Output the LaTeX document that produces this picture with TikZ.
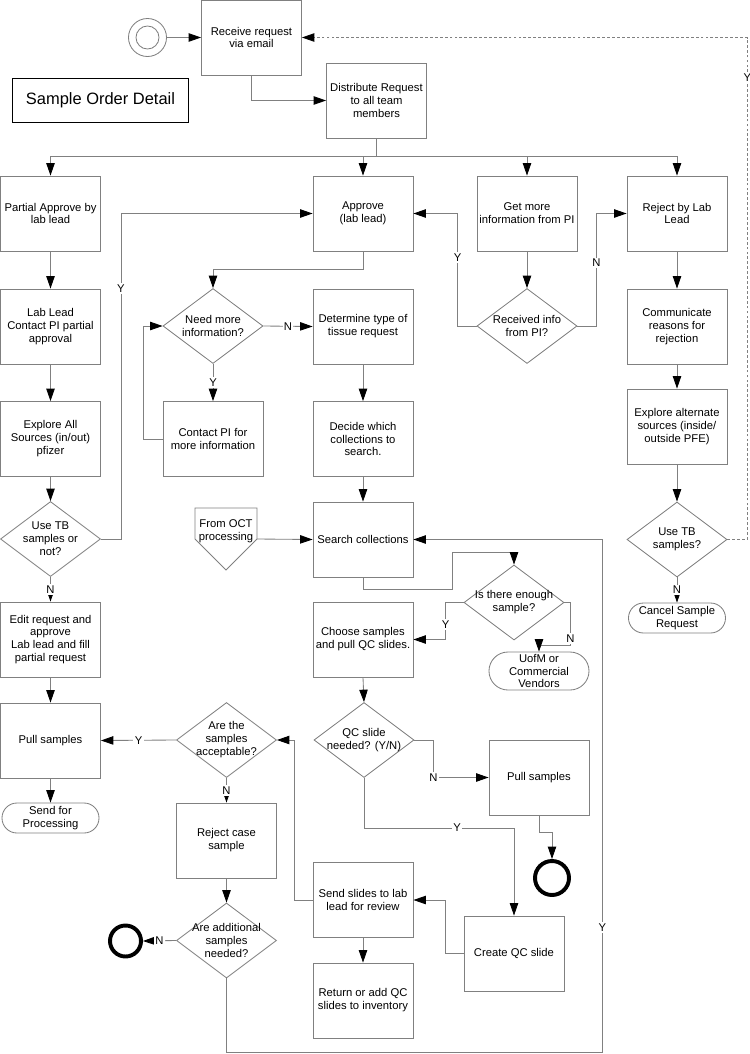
\documentclass[tikz,border=0pt]{standalone}
\usepackage{fontspec}
\setmainfont{Liberation Sans}
\usetikzlibrary{arrows.meta,positioning,calc,shapes.geometric,shapes.misc}
\definecolor{edge}{HTML}{808080}

\begin{document}
\begin{tikzpicture}[x=0.025cm,y=-0.025cm,font=\fontsize{8}{9.2}\selectfont,line width=0.6pt]
\tikzstyle{proc}=[draw=edge,minimum width=2.5cm,minimum height=1.875cm,align=center,inner sep=1pt]
\tikzstyle{dec}=[draw=edge,diamond,minimum width=2.5cm,minimum height=1.875cm,inner sep=0pt]
\tikzstyle{term}=[draw=edge,rounded rectangle,minimum width=2.425cm,minimum height=0.75cm,inner sep=0pt]
\tikzstyle{txt}=[align=center,inner sep=0pt]
\tikzstyle{arr}=[draw=edge,-{Triangle[length=3.1mm,width=2.1mm,color=black]}]
\tikzstyle{lab}=[fill=white,inner sep=1pt]
\useasboundingbox (0,0) rectangle (750,1054);
\node[circle,draw=edge,minimum size=0.95cm] (start) at (147.5,37.5) {};
\node[circle,draw=edge,minimum size=0.575cm] (start-in) at (start) {};
\node[proc] (recv) at (251.5,37.5) {Receive request\\via email};
\node[draw,line width=0.7pt,minimum width=4.375cm,minimum height=1.1cm,font=\fontsize{11.7}{14}\selectfont] (title) at (100.5,100) {Sample Order Detail};
\node[proc] (dist) at (376.5,100.5) {Distribute Request\\to all team\\members};
\node[proc] (partial) at (50.5,213.5) {Partial Approve by\\lab lead};
\node[proc] (approve) at (363,213.5) {Approve\\(lab lead)};
\node[proc] (getinfo) at (527,213.5) {Get more\\information from PI};
\node[proc] (reject) at (677,213.5) {Reject by Lab\\Lead};
\node[proc] (contact) at (50.5,326.5) {Lab Lead\\Contact PI partial\\approval};
\node[dec,label={[txt]center:{Need more\\information?}}] (needinfo) at (213,326) {};
\node[proc] (determine) at (363,326.5) {Determine type of\\tissue request};
\node[dec,label={[txt]center:{Received info\\from PI?}}] (received) at (527,326) {};
\node[proc] (communicate) at (677,326.5) {Communicate\\reasons for\\rejection};
\node[proc] (explore) at (50.5,439) {Explore All\\Sources (in/out)\\pfizer};
\node[proc] (contactpi) at (213,439) {Contact PI for\\more information};
\node[proc] (decide) at (363,439) {Decide which\\collections to\\search.};
\node[proc] (alternate) at (677,426.5) {Explore alternate\\sources (inside/\\outside PFE)};
\node[dec,label={[txt]center:{Use TB\\samples or\\not?}}] (usetb) at (50.5,539) {};
\node[proc] (search) at (363,539.5) {Search collections};
\node[dec,label={[txt]center:{Use TB\\samples?}}] (usetbrej) at (677,539.5) {};
\node[dec,label={[txt]center:{Is there enough\\sample?}}] (enough) at (514,602.5) {};
\node[term,label={[txt]center:{Cancel Sample\\Request}}] (cancel) at (677,618) {};
\node[proc] (edit) at (50.5,639.5) {Edit request and\\approve\\Lab lead and fill\\partial request};
\node[proc] (choose) at (363,639.5) {Choose samples\\and pull QC slides.};
\node[term,minimum width=2.5cm,minimum height=0.95cm,label={[txt]center:{UofM or\\Commercial\\Vendors}}] (uofm) at (539,671) {};
\node[proc] (pullA) at (50.5,740.5) {Pull samples};
\node[dec,label={[txt]center:{Are the\\samples\\acceptable?}}] (accept) at (226.5,740) {};
\node[dec,label={[txt]center:{QC slide\\needed? (Y/N)}}] (qcneed) at (364,740) {};
\node[proc] (pullB) at (539,777.5) {Pull samples};
\node[term,label={[txt]center:{Send for\\Processing}}] (sendproc) at (50.5,818) {};
\node[proc] (rejcase) at (226.5,840.5) {Reject case\\sample};
\node[circle,draw,line width=2.8pt,minimum size=0.85cm] (endB) at (552,878) {};
\node[proc] (sendslides) at (363,900) {Send slides to lab\\lead for review};
\node[dec,label={[txt]center:{Are additional\\samples\\needed?}}] (addl) at (226.5,940.5) {};
\node[circle,draw,line width=2.8pt,minimum size=0.775cm] (endA) at (125.5,941) {};
\node[proc] (createqc) at (514,953.5) {Create QC slide};
\node[proc] (ret) at (363,1000.5) {Return or add QC\\slides to inventory};
\draw[draw=edge] (195,508) -- (257,508) -- (257,539) -- (226,570) -- (195,539) -- cycle;
\node[txt] (oct) at (226,531) {From OCT\\processing};
\coordinate (octR) at (257,539);
\draw[arr] (start.east) -- (recv.west);
\draw[arr] (recv.south) |- (dist.west);
\coordinate (bus) at ($(dist.south)+(0,18)$);
\draw[draw=edge] (dist.south) -- (bus);
\foreach \n in {partial,approve,getinfo,reject} \draw[arr] (bus) -| (\n.north);
\foreach \a/\b in {partial/contact,contact/explore,explore/usetb,determine/decide,decide/search,getinfo/received,reject/communicate,communicate/alternate,alternate/usetbrej,choose/qcneed,edit/pullA,pullA/sendproc,rejcase/addl,sendslides/ret} \draw[arr] (\a.south) -- (\b.north);
\draw[arr] (usetb.south) -- node[lab]{N} (edit.north);
\draw[arr] (usetbrej.south) -- node[lab]{N} (cancel.north);
\draw[arr] (needinfo.east) -- node[lab]{N} (determine.west);
\draw[arr] (needinfo.south) -- node[lab]{Y} (contactpi.north);
\draw[arr] (accept.west) -- node[lab]{Y} (pullA.east);
\draw[arr] (accept.south) -- node[lab]{N} (rejcase.north);
\draw[arr] (addl.west) -- node[lab]{N} (endA.east);
\draw[arr] (usetb.east) -- ++(20,0) |- node[lab,pos=0.385]{Y} (approve.west);
\draw[arr] (approve.south) -- ++(0,18) -| (needinfo.north);
\draw[arr] (contactpi.west) -- ++(-19,0) |- (needinfo.west);
\draw[arr] (received.west) -- ++(-19,0) |- node[lab,pos=0.305]{Y} (approve.east);
\draw[arr] (received.east) -- ++(19,0) |- node[lab,pos=0.28]{N} (reject.west);
\draw[arr,dash pattern=on 2pt off 1.5pt] (usetbrej.east) -- ++(20,0) |- node[lab,pos=0.46]{Y} (recv.east);
\draw[arr] (octR) -- (search.west);
\draw[arr] (search.south) -- ++(0,12) -| ($(enough.north)+(-62,-12)$) -| (enough.north);
\draw[arr] (addl.south) -- ++(0,74) -| node[lab,pos=0.622]{Y} ($(search.east)+(189,0)$) -- (search.east);
\draw[arr] (enough.west) -- ++(-18,0) |- node[lab,pos=0.3]{Y} (choose.east);
\draw[draw=edge] (enough.east) -- ++(6,0) |- node[lab,pos=0.42]{N} ($(uofm.north)+(0,-6)$);
\draw[arr] ($(uofm.north)+(0,-13)$) -- (uofm.north);
\draw[arr] (qcneed.east) -- ++(19,0) |- node[lab,pos=0.5]{N} (pullB.west);
\draw[arr] (qcneed.south) -- ++(0,50) -| node[lab,pos=0.31]{Y} (createqc.north);
\draw[arr] (pullB.south) -- ++(0,17) -| (endB.north);
\draw[arr] (createqc.west) -- ++(-18,0) |- (sendslides.east);
\draw[arr] (sendslides.west) -- ++(-18,0) |- (accept.east);
\end{tikzpicture}
\end{document}
